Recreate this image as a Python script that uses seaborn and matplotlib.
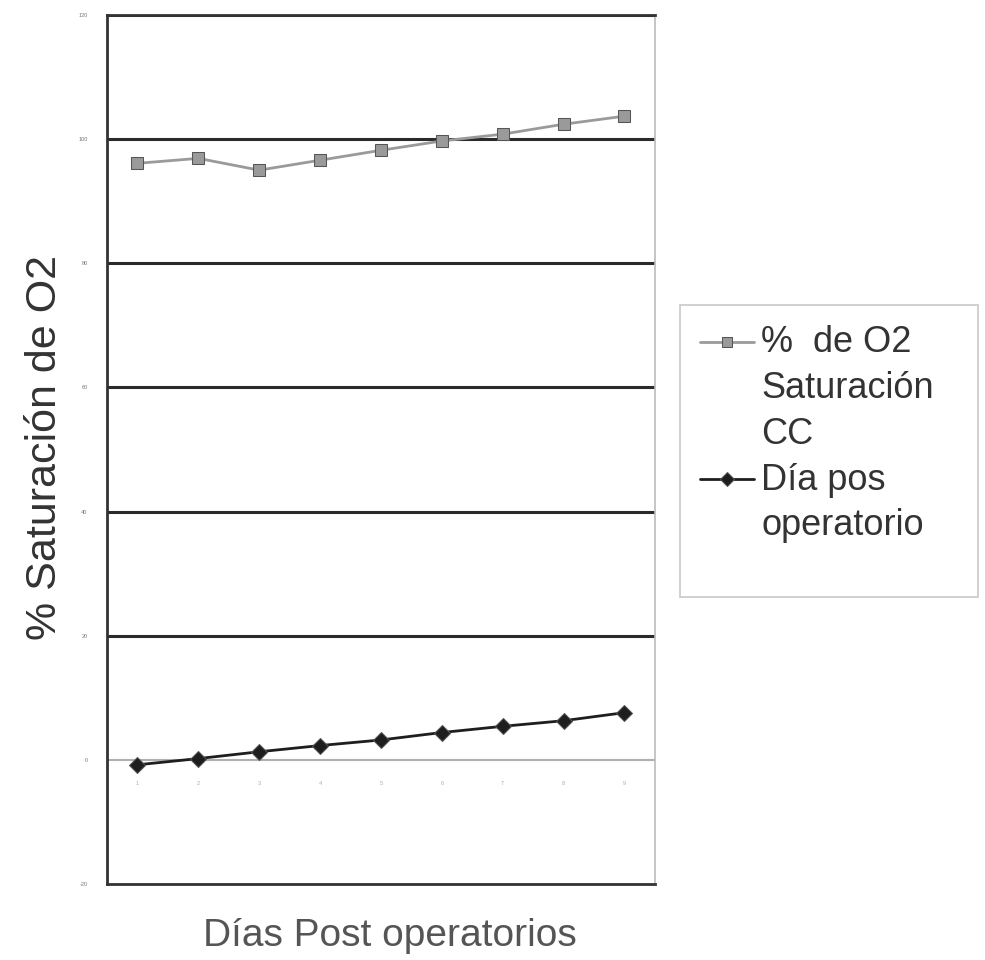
import matplotlib
matplotlib.use("Agg")
import matplotlib.pyplot as plt
from matplotlib.lines import Line2D
import pandas as pd
import seaborn as sns

sns.set_style("white")
plt.rcParams["font.family"] = ["Liberation Sans", "DejaVu Sans"]

dias = [1, 2, 3, 4, 5, 6, 7, 8, 9]
saturacion_cc = [96.1, 96.9, 95.0, 96.6, 98.2, 99.7, 100.8, 102.4, 103.7]
dia_pos = [-0.8, 0.2, 1.3, 2.3, 3.2, 4.4, 5.4, 6.3, 7.6]
y_ticks = [-20, 0, 20, 40, 60, 80, 100, 120]

lbl_sat = ["%  de O2", "Saturación", "CC"]
lbl_dia = ["Día pos", "operatorio"]

df = pd.DataFrame({
    "dia": dias * 2,
    "valor": saturacion_cc + dia_pos,
    "serie": ["sat"] * len(dias) + ["dia"] * len(dias),
})

fig = plt.figure(figsize=(9.85, 9.6), dpi=100)
ax = fig.add_axes([0.1086, 0.0792, 0.5563, 0.9052])

sns.lineplot(data=df, x="dia", y="valor", hue="serie", style="serie",
             palette={"sat": "#9a9a9a", "dia": "#1e1e1e"},
             markers={"sat": "s", "dia": "D"},
             dashes=False, linewidth=2, markersize=8.5,
             markeredgecolor="#555555", ax=ax, zorder=5)

ax.set_xlim(0.5, 9.5)
ax.set_ylim(-20, 120)
ax.set_yticks(y_ticks)
ax.set_yticklabels([str(t) for t in y_ticks], fontsize=4, color="#777777")
ax.tick_params(axis="y", length=0, pad=14)

# category labels sit just under the zero line, as in the original
ax.set_xticks(dias)
ax.set_xticklabels([])
ax.tick_params(axis="x", length=0)
for d in dias:
    ax.text(d, -3.8, str(d), fontsize=4, color="#aaaaaa", ha="center", va="center")

for t in [20, 40, 60, 80, 100, 120]:
    ax.axhline(t, color="#2a2a2a", linewidth=2.2, zorder=1)
ax.axhline(0, color="#b0b0b0", linewidth=1.5, zorder=1)

for side in ["top", "bottom", "left"]:
    ax.spines[side].set_color("#333333")
    ax.spines[side].set_linewidth(2)
ax.spines["right"].set_color("#bbbbbb")
ax.spines["right"].set_linewidth(1.2)

ax.set_xlabel("")
ax.set_ylabel("")
fig.text(390 / 985, 1 - 936 / 960, "Días Post operatorios", fontsize=28,
         color="#555555", ha="center", va="center")
fig.text(45 / 985, 1 - 448 / 960, "% Saturación de O2", fontsize=31,
         color="#333333", rotation=90, ha="center", va="center")

# legend: handle next to the first line of each label, like the original
h_sat, h_dia = ax.get_legend_handles_labels()[0][:2]
blank = Line2D([], [], linestyle="none")
leg_handles = [h_sat, blank, blank, h_dia, blank, blank]
leg_labels = lbl_sat + lbl_dia + [" "]
ax.legend(leg_handles, leg_labels, loc="upper left",
          bbox_to_anchor=(1.0456, 0.666, 0.5438, 0), mode="expand",
          fontsize=26, frameon=True, fancybox=False, handlelength=1.5,
          handleheight=0.3, handletextpad=0.2, labelspacing=0.3,
          borderpad=0.55, borderaxespad=0, markerscale=0.8)
leg = ax.get_legend()
leg.get_frame().set_edgecolor("#bbbbbb")
leg.get_frame().set_linewidth(1.2)
for txt in leg.get_texts():
    txt.set_color("#333333")
leg.get_texts()[-1].set_fontsize(6)

fig.savefig("out.png", dpi=100, facecolor="white")
